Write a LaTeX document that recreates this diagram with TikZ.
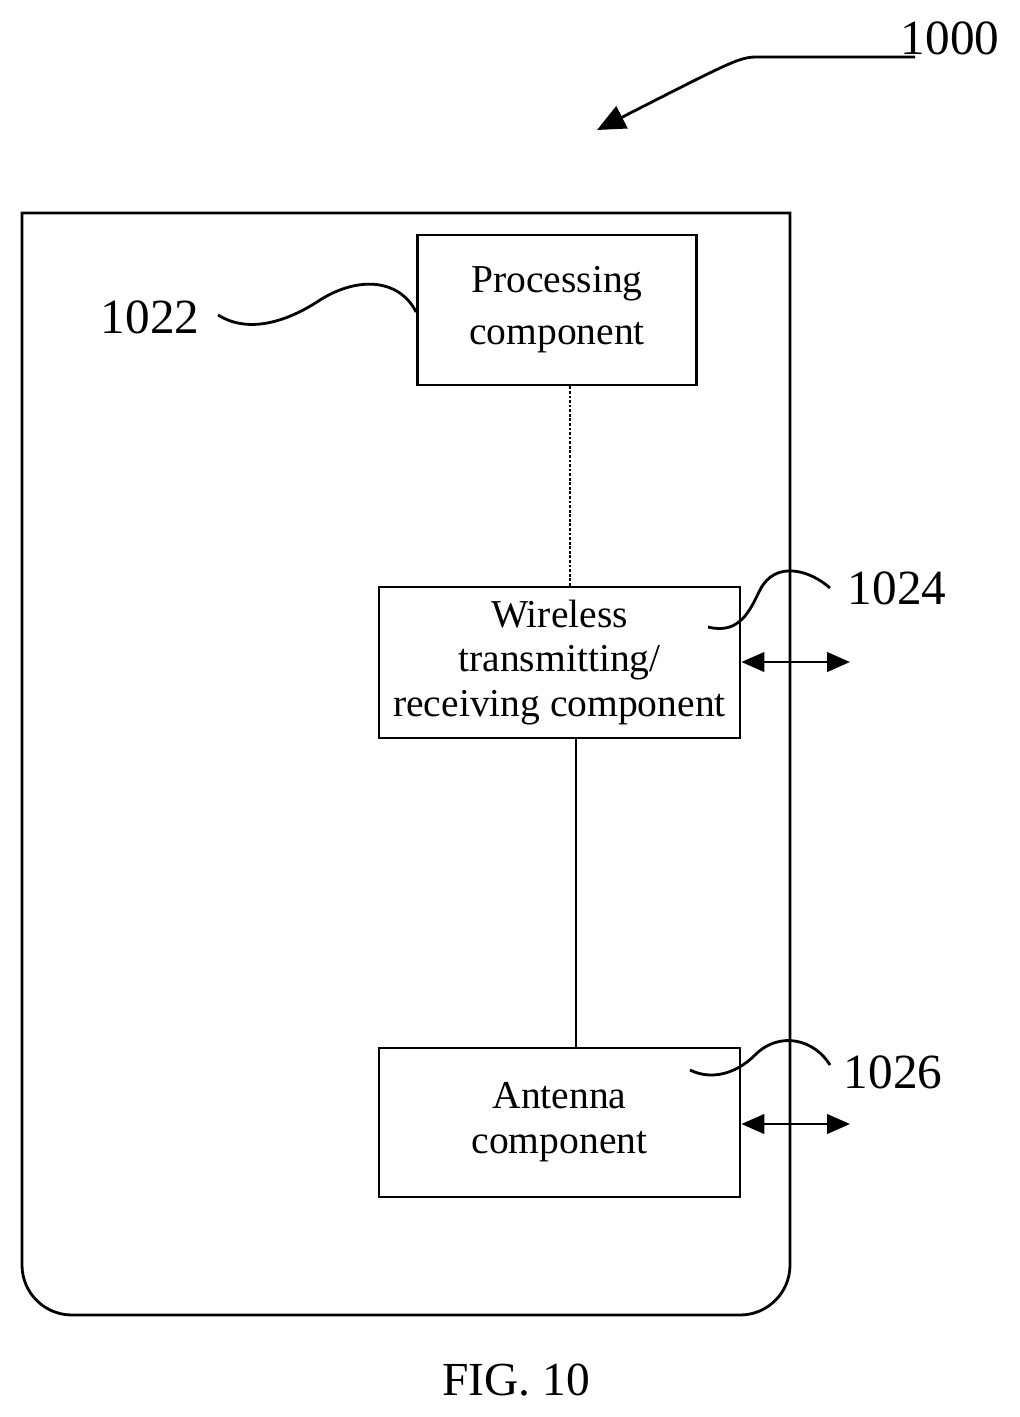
\documentclass[tikz,border=0pt]{standalone}
\usepackage{fontspec}
\setmainfont{Liberation Serif}
\usetikzlibrary{arrows.meta, positioning}

\begin{document}
\begin{tikzpicture}[
x=0.02cm, y=-0.02cm,
line width=1.6pt,
box/.style={draw,
rectangle,
inner sep=0pt,
align=center,
font=\fontsize{22.5}{25.5}\selectfont},
num/.style={font=\fontsize{28}{30}\selectfont},
arrow/.style={{Triangle[width=11pt,length=13pt]}-{Triangle[width=11pt,length=13pt]}},
squig/.style={line width=1.6pt}
]
\useasboundingbox (0,0) rectangle (1020,1417);

% outer housing
\draw (406,213) -- (790,213) -- (790,800) [rounded corners=1cm] -- (790,1315) -- (22,1315) -- (22,800) [sharp corners] -- (22,213) -- cycle;

\node[box, minimum width=279*0.02cm, minimum height=150*0.02cm] (proc) at (557,310) {Processing\\[4pt]component};
\node[box, minimum width=361*0.02cm, minimum height=151*0.02cm] (wrx) at (559.5,662.5) {Wireless\\transmitting/\\receiving component};
\node[box, minimum width=361*0.02cm, minimum height=149*0.02cm] (ant) at (559.5,1122.5) {Antenna\\component};

\coordinate (p1) at (proc.south -| 570,0);
\coordinate (p2) at (wrx.north -| 570,0);
\coordinate (w1) at (wrx.south -| 576,0);
\coordinate (w2) at (ant.north -| 576,0);
\draw[densely dotted] (p1) -- (p2);
\draw (w1) -- (w2);

\coordinate (wout) at (850,662);
\coordinate (aout) at (850,1124);
\draw[arrow] (wrx.east |- wout) -- (wout);
\draw[arrow] (ant.east |- aout) -- (aout);

% reference numerals
\node[num] (n1000) at (950,38) {1000};
\node[num] (n1022) at (150,317) {1022};
\node[num] (n1024) at (897,588) {1024};
\node[num] (n1026) at (893,1072) {1026};
\node[font=\fontsize{27}{30}\selectfont] (fig) at (516,1380) {FIG. 10};

\coordinate (c1000) at (915,57);
\coordinate (t1000) at (597,130);
\draw[-{Triangle[width=14pt,length=16pt]}] (c1000) -- (760,57) .. controls (740,57) .. (t1000);
\draw[squig] (218,315) .. controls (250,335) and (290,320) .. (320,300) .. controls (360,275) and (400,280) .. (proc.west |- 0,312);
\draw[squig] (708,627) .. controls (740,635) and (750,610) .. (760,590) .. controls (775,560) and (810,570) .. (830,588);
\draw[squig] (690,1070) .. controls (710,1080) and (735,1075) .. (755,1055) .. controls (780,1030) and (815,1040) .. (830,1065);

\end{tikzpicture}
\end{document}
